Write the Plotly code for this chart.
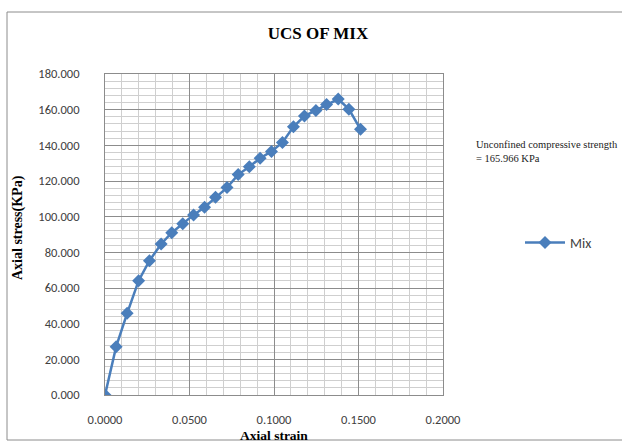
import plotly.graph_objects as go

# Data
strain = [0.0000, 0.0066, 0.0131, 0.0199, 0.0263, 0.0332, 0.0395, 0.0460,
          0.0524, 0.0589, 0.0654, 0.0722, 0.0788, 0.0854, 0.0918, 0.0985,
          0.1050, 0.1115, 0.1180, 0.1248, 0.1311, 0.1380, 0.1443, 0.1512]
stress = [0.0, 27.1, 45.8, 64.1, 75.3, 84.7, 91.0, 96.0,
          101.0, 105.3, 110.9, 116.3, 123.6, 128.0, 132.8, 136.6,
          141.6, 150.4, 156.4, 159.6, 162.9, 165.966, 160.3, 149.0]
series_name = "Mix"
title_text = "UCS OF MIX"
x_title = "Axial strain"
y_title = "Axial stress(KPa)"
note_lines = ["Unconfined compressive strength", "= 165.966 KPa"]

W, H = 622, 442
L, R, T, B = 105, 179, 74, 47
pw, ph = W - L - R, H - T - B

def px(xp):
    return (xp - L) / pw

def py(yp):
    return (H - B - yp) / ph

serif = "Liberation Serif, Times New Roman, serif"
sans = "Carlito, Liberation Sans, Arial, sans-serif"

fig = go.Figure()
fig.add_trace(go.Scatter(
    x=strain, y=stress, mode="lines+markers", name=series_name,
    line=dict(color="#4A7EBB", width=2.5),
    marker=dict(symbol="diamond", size=10, color="#4A7EBB"),
))

fig.update_layout(
    width=W, height=H,
    margin=dict(l=L, r=R, t=T, b=B),
    paper_bgcolor="white", plot_bgcolor="white",
    showlegend=True,
    legend=dict(x=px(520), y=py(243), xanchor="left", yanchor="middle",
                font=dict(family=sans, size=14, color="#404040"),
                bgcolor="rgba(0,0,0,0)", itemwidth=40),
    title=dict(text="<b>" + title_text + "</b>", xref="container", x=318 / W,
               xanchor="center", yref="container", y=1 - 33 / H, yanchor="middle",
               font=dict(family=serif, size=17, color="black")),
    xaxis=dict(range=[0, 0.2], dtick=0.05, tick0=0, tickformat=".4f",
               showgrid=True, gridcolor="#8c8c8c", gridwidth=1,
               minor=dict(dtick=0.01, showgrid=True, gridcolor="#cfcfcf", gridwidth=1),
               showline=True, linecolor="#8c8c8c", mirror=True,
               zeroline=False, ticks="", ticklabelstandoff=13,
               tickfont=dict(family=sans, size=12.5, color="#404040")),
    yaxis=dict(range=[0, 180], dtick=20, tick0=0, tickformat=".3f",
               showgrid=True, gridcolor="#8c8c8c", gridwidth=1,
               minor=dict(dtick=4, showgrid=True, gridcolor="#cfcfcf", gridwidth=1),
               showline=True, linecolor="#8c8c8c", mirror=True,
               zeroline=False, ticks="", ticklabelstandoff=22,
               tickfont=dict(family=sans, size=12.5, color="#404040")),
)

fig.add_annotation(text="<b>" + y_title + "</b>", xref="paper", yref="paper",
                   x=px(18), y=py(228), xanchor="center", yanchor="middle",
                   textangle=-90, showarrow=False,
                   font=dict(family=serif, size=14, color="black"))
fig.add_annotation(text="<b>" + x_title + "</b>", xref="paper", yref="paper",
                   x=px(274), y=py(435), xanchor="center", yanchor="middle",
                   showarrow=False,
                   font=dict(family=serif, size=13.5, color="black"))
fig.add_annotation(text="<br>".join(note_lines), xref="paper", yref="paper",
                   x=px(474), y=py(151), xanchor="left", yanchor="middle",
                   align="left", showarrow=False,
                   font=dict(family=serif, size=10.5, color="#222222"))

# outer chart border
fig.add_shape(type="rect", xref="paper", yref="paper",
              x0=px(7), x1=px(640), y0=py(440), y1=py(12),
              line=dict(color="#8c8c8c", width=1), layer="below")

fig.write_html("out.html")
